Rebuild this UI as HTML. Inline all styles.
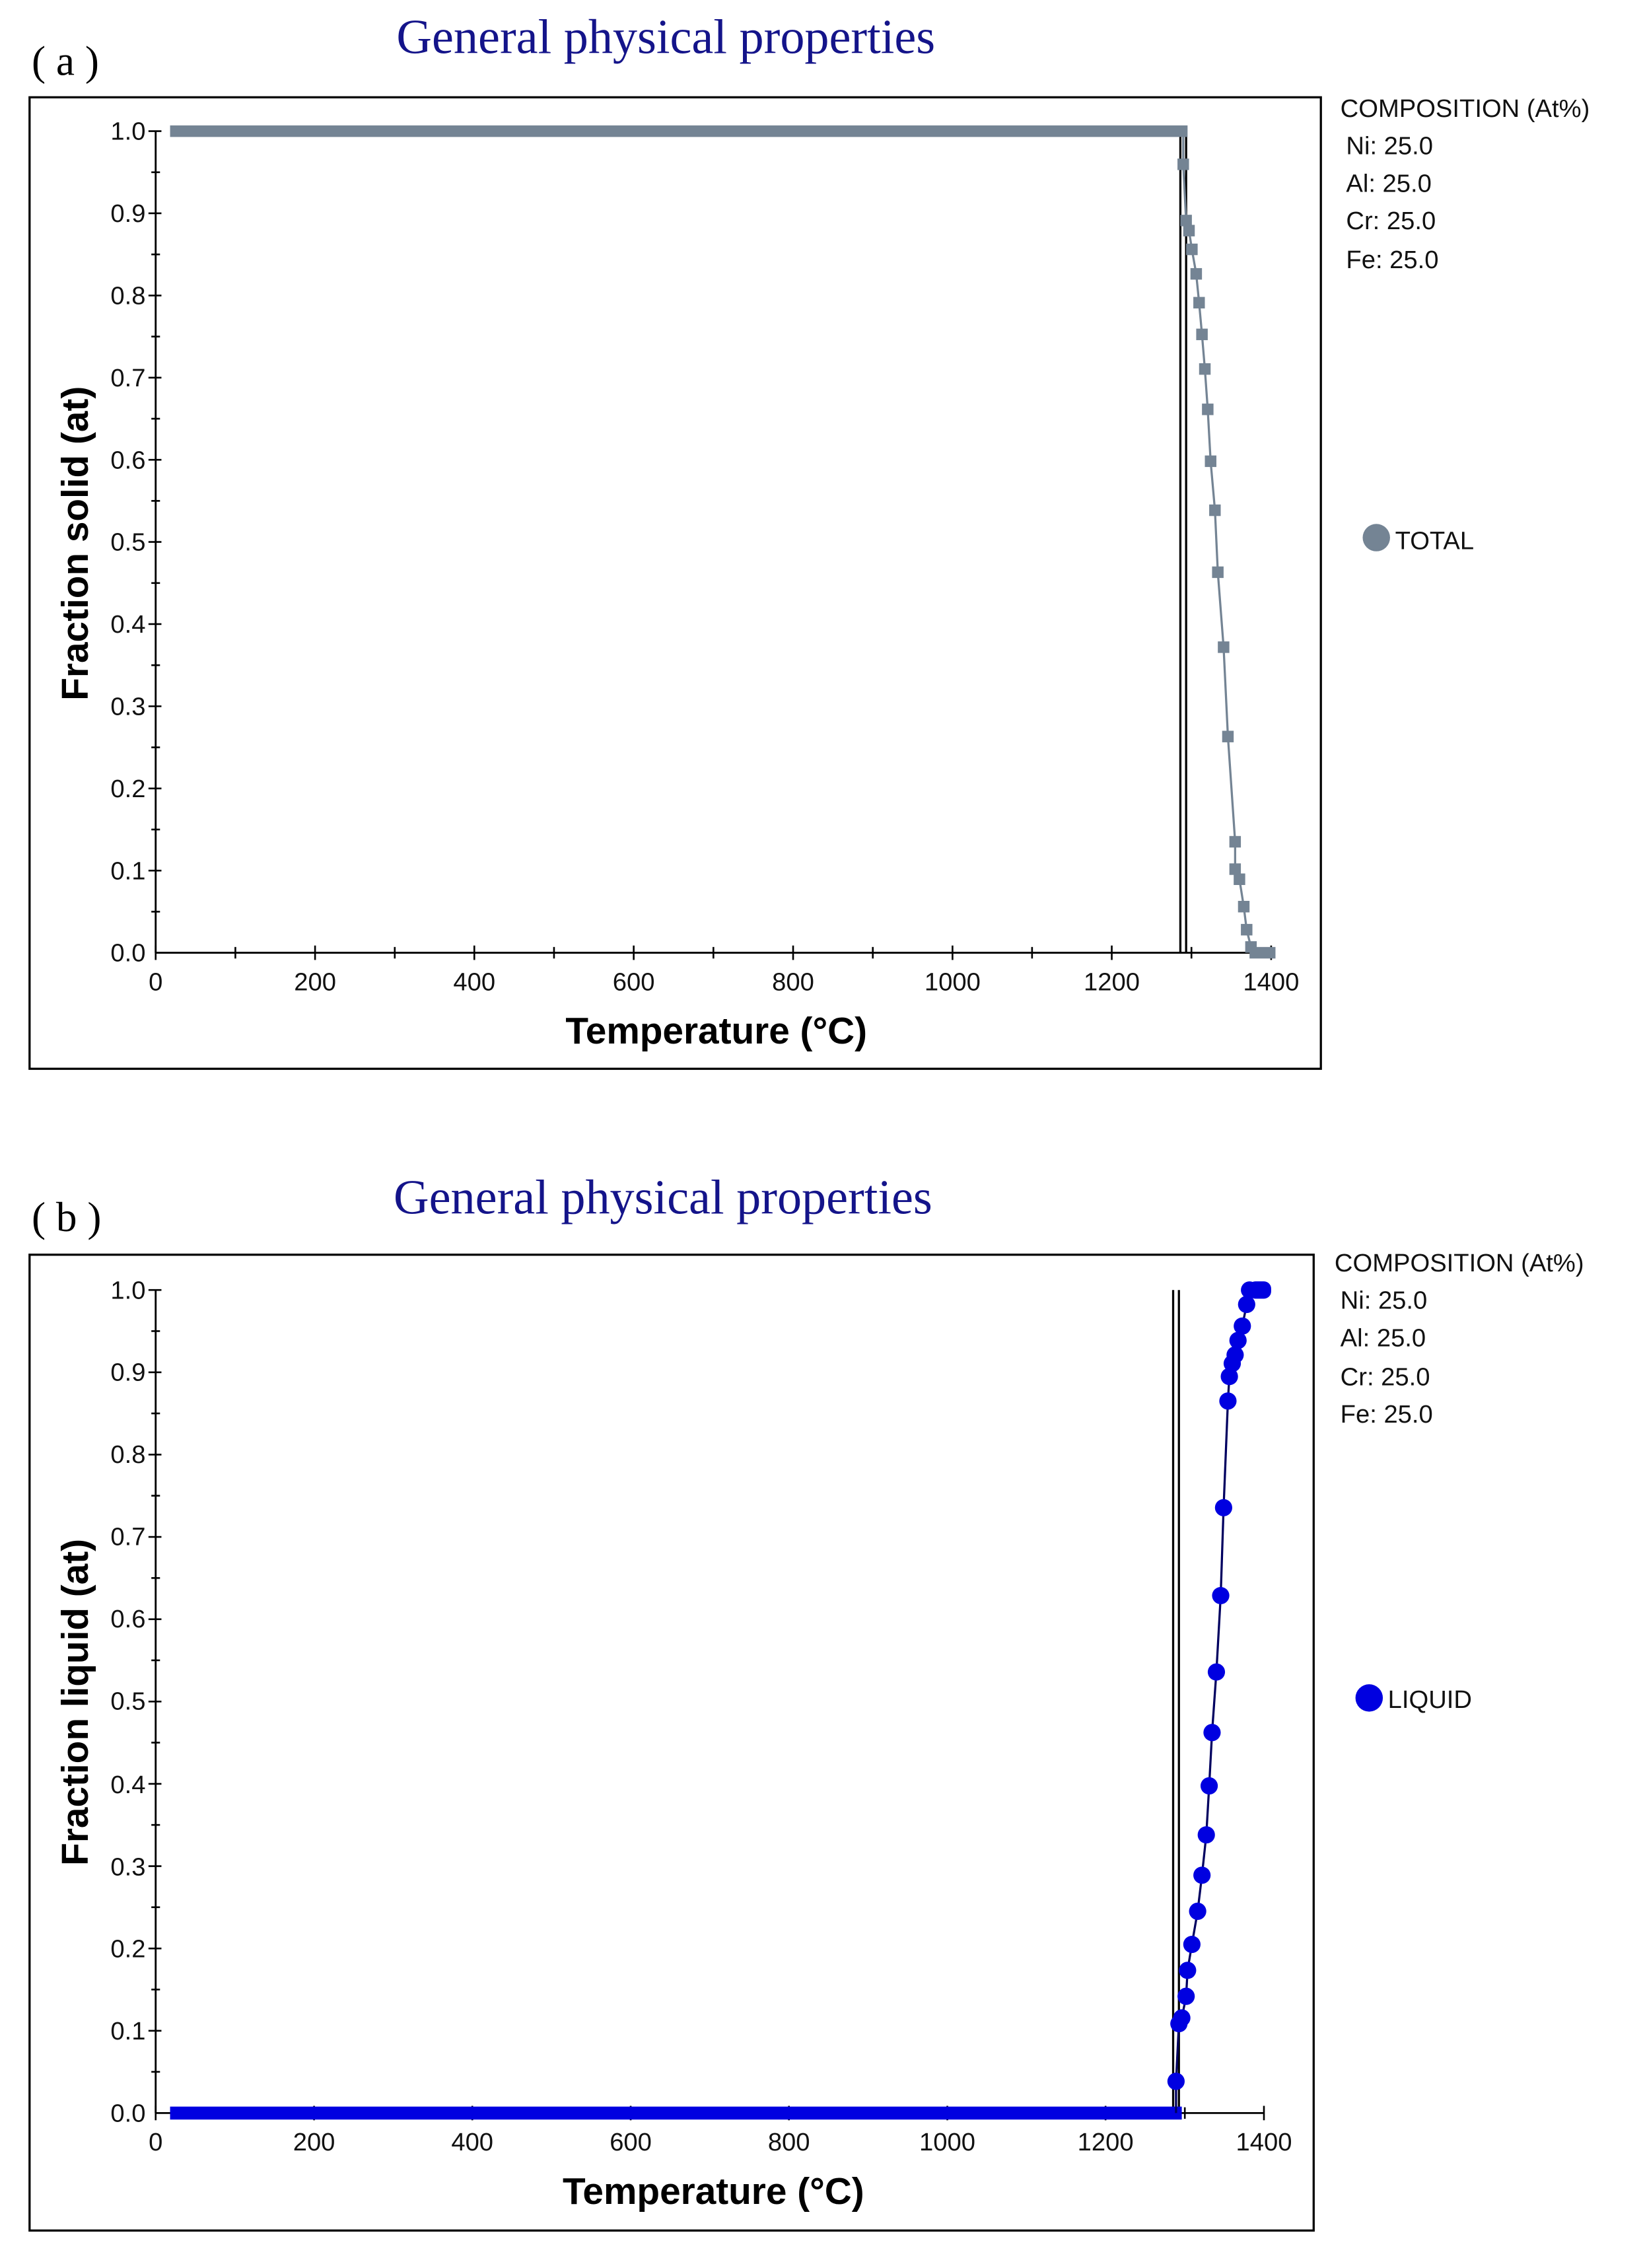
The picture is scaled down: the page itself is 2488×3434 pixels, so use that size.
<!DOCTYPE html>
<html><head><meta charset="utf-8"><style>
html,body{margin:0;padding:0;background:#fff;}
svg{display:block;}
text{font-family:"Liberation Sans",sans-serif;}
</style></head><body>
<svg width="2488" height="3434" viewBox="0 0 1140 1573.5" xmlns="http://www.w3.org/2000/svg">
<rect width="1140" height="1573.5" fill="#fff"/>
<!-- Panel A -->
<text x="22" y="52" font-size="29" style="font-family:'Liberation Serif',serif">( a )</text>
<text x="462" y="37" text-anchor="middle" font-size="34" fill="#14148a" style="font-family:'Liberation Serif',serif">General physical properties</text>
<rect x="20.5" y="67.5" width="896" height="674" fill="none" stroke="#000" stroke-width="1.5"/>
<g stroke="#000" stroke-width="1.3">
<line x1="108" y1="91" x2="108" y2="661"/>
<line x1="108" y1="661" x2="882" y2="661"/>
</g>
<g stroke="#000" stroke-width="1.2">
<line x1="103" y1="91" x2="112" y2="91"/><line x1="103" y1="148" x2="112" y2="148"/><line x1="103" y1="205" x2="112" y2="205"/><line x1="103" y1="262" x2="112" y2="262"/><line x1="103" y1="319" x2="112" y2="319"/><line x1="103" y1="376" x2="112" y2="376"/><line x1="103" y1="433" x2="112" y2="433"/><line x1="103" y1="490" x2="112" y2="490"/><line x1="103" y1="547" x2="112" y2="547"/><line x1="103" y1="604" x2="112" y2="604"/>
<line x1="105" y1="119.5" x2="111" y2="119.5"/><line x1="105" y1="176.5" x2="111" y2="176.5"/><line x1="105" y1="233.5" x2="111" y2="233.5"/><line x1="105" y1="290.5" x2="111" y2="290.5"/><line x1="105" y1="347.5" x2="111" y2="347.5"/><line x1="105" y1="404.5" x2="111" y2="404.5"/><line x1="105" y1="461.5" x2="111" y2="461.5"/><line x1="105" y1="518.5" x2="111" y2="518.5"/><line x1="105" y1="575.5" x2="111" y2="575.5"/><line x1="105" y1="632.5" x2="111" y2="632.5"/>
<line x1="108" y1="656" x2="108" y2="666"/><line x1="163.3" y1="657" x2="163.3" y2="665"/><line x1="218.6" y1="656" x2="218.6" y2="666"/><line x1="273.9" y1="657" x2="273.9" y2="665"/><line x1="329.1" y1="656" x2="329.1" y2="666"/><line x1="384.4" y1="657" x2="384.4" y2="665"/><line x1="439.7" y1="656" x2="439.7" y2="666"/><line x1="495" y1="657" x2="495" y2="665"/><line x1="550.3" y1="656" x2="550.3" y2="666"/><line x1="605.6" y1="657" x2="605.6" y2="665"/><line x1="660.9" y1="656" x2="660.9" y2="666"/><line x1="716.1" y1="657" x2="716.1" y2="665"/><line x1="771.4" y1="656" x2="771.4" y2="666"/><line x1="826.7" y1="657" x2="826.7" y2="665"/><line x1="882" y1="656" x2="882" y2="666"/>
</g>
<g font-size="17.5" text-anchor="end" fill="#111">
<text x="101" y="97">1.0</text><text x="101" y="154">0.9</text><text x="101" y="211">0.8</text><text x="101" y="268">0.7</text><text x="101" y="325">0.6</text><text x="101" y="382">0.5</text><text x="101" y="439">0.4</text><text x="101" y="496">0.3</text><text x="101" y="553">0.2</text><text x="101" y="610">0.1</text><text x="101" y="667">0.0</text>
</g>
<g font-size="17.5" text-anchor="middle" fill="#111">
<text x="108" y="687">0</text><text x="218.6" y="687">200</text><text x="329.1" y="687">400</text><text x="439.7" y="687">600</text><text x="550.3" y="687">800</text><text x="660.9" y="687">1000</text><text x="771.4" y="687">1200</text><text x="882" y="687">1400</text>
</g>
<text x="497" y="724" text-anchor="middle" font-size="26" font-weight="bold">Temperature (°C)</text>
<text transform="translate(61,377) rotate(-90)" text-anchor="middle" font-size="26" font-weight="bold">Fraction solid (at)</text>
<g font-size="17.5" fill="#111">
<text x="930" y="81">COMPOSITION (At%)</text><text x="934" y="107">Ni: 25.0</text><text x="934" y="133">Al: 25.0</text><text x="934" y="159">Cr: 25.0</text><text x="934" y="186">Fe: 25.0</text>
<text x="968" y="381">TOTAL</text>
</g>
<circle cx="955" cy="373" r="9.5" fill="#748494"/>
<line x1="819" y1="91" x2="819" y2="661" stroke="#000" stroke-width="1.5"/>
<line x1="823" y1="91" x2="823" y2="661" stroke="#000" stroke-width="1.5"/>
<line x1="118" y1="91" x2="824" y2="91" stroke="#748494" stroke-width="8"/>
<polyline fill="none" stroke="#748494" stroke-width="1.5" points="821,91 821,114 823,153 825,160 827,173 830,190 832,210 834,232 836,256 838,284 840,320 843,354 845,397 849,449 852,511 857,584 857,603 860,610 863,629 865,645 868,657 871,661 883,661"/>
<g fill="#748494">
<rect x="817" y="110" width="8" height="8"/><rect x="819" y="149" width="8" height="8"/><rect x="821" y="156" width="8" height="8"/><rect x="823" y="169" width="8" height="8"/><rect x="826" y="186" width="8" height="8"/><rect x="828" y="206" width="8" height="8"/><rect x="830" y="228" width="8" height="8"/><rect x="832" y="252" width="8" height="8"/><rect x="834" y="280" width="8" height="8"/><rect x="836" y="316" width="8" height="8"/><rect x="839" y="350" width="8" height="8"/><rect x="841" y="393" width="8" height="8"/><rect x="845" y="445" width="8" height="8"/><rect x="848" y="507" width="8" height="8"/><rect x="853" y="580" width="8" height="8"/><rect x="853" y="599" width="8" height="8"/><rect x="856" y="606" width="8" height="8"/><rect x="859" y="625" width="8" height="8"/><rect x="861" y="641" width="8" height="8"/><rect x="864" y="653" width="8" height="8"/><rect x="867" y="657" width="18" height="8"/>
</g>

<!-- Panel B -->
<text x="22" y="854" font-size="29" style="font-family:'Liberation Serif',serif">( b )</text>
<text x="460" y="842" text-anchor="middle" font-size="34" fill="#14148a" style="font-family:'Liberation Serif',serif">General physical properties</text>
<rect x="20.5" y="870.5" width="891" height="677" fill="none" stroke="#000" stroke-width="1.5"/>
<g stroke="#000" stroke-width="1.3">
<line x1="108" y1="895" x2="108" y2="1466"/>
<line x1="108" y1="1466" x2="877" y2="1466"/>
</g>
<g stroke="#000" stroke-width="1.2">
<line x1="103" y1="895" x2="112" y2="895"/><line x1="103" y1="952.1" x2="112" y2="952.1"/><line x1="103" y1="1009.2" x2="112" y2="1009.2"/><line x1="103" y1="1066.3" x2="112" y2="1066.3"/><line x1="103" y1="1123.4" x2="112" y2="1123.4"/><line x1="103" y1="1180.5" x2="112" y2="1180.5"/><line x1="103" y1="1237.6" x2="112" y2="1237.6"/><line x1="103" y1="1294.7" x2="112" y2="1294.7"/><line x1="103" y1="1351.8" x2="112" y2="1351.8"/><line x1="103" y1="1408.9" x2="112" y2="1408.9"/>
<line x1="105" y1="923.5" x2="111" y2="923.5"/><line x1="105" y1="980.6" x2="111" y2="980.6"/><line x1="105" y1="1037.7" x2="111" y2="1037.7"/><line x1="105" y1="1094.8" x2="111" y2="1094.8"/><line x1="105" y1="1151.9" x2="111" y2="1151.9"/><line x1="105" y1="1209" x2="111" y2="1209"/><line x1="105" y1="1266.1" x2="111" y2="1266.1"/><line x1="105" y1="1323.2" x2="111" y2="1323.2"/><line x1="105" y1="1380.3" x2="111" y2="1380.3"/><line x1="105" y1="1437.4" x2="111" y2="1437.4"/>
<line x1="108" y1="1461" x2="108" y2="1471"/><line x1="162.9" y1="1462" x2="162.9" y2="1470"/><line x1="217.9" y1="1461" x2="217.9" y2="1471"/><line x1="272.8" y1="1462" x2="272.8" y2="1470"/><line x1="327.7" y1="1461" x2="327.7" y2="1471"/><line x1="382.6" y1="1462" x2="382.6" y2="1470"/><line x1="437.6" y1="1461" x2="437.6" y2="1471"/><line x1="492.5" y1="1462" x2="492.5" y2="1470"/><line x1="547.4" y1="1461" x2="547.4" y2="1471"/><line x1="602.4" y1="1462" x2="602.4" y2="1470"/><line x1="657.3" y1="1461" x2="657.3" y2="1471"/><line x1="712.2" y1="1462" x2="712.2" y2="1470"/><line x1="767.1" y1="1461" x2="767.1" y2="1471"/><line x1="822.1" y1="1462" x2="822.1" y2="1470"/><line x1="877" y1="1461" x2="877" y2="1471"/>
</g>
<g font-size="17.5" text-anchor="end" fill="#111">
<text x="101" y="901">1.0</text><text x="101" y="958">0.9</text><text x="101" y="1015">0.8</text><text x="101" y="1072">0.7</text><text x="101" y="1129">0.6</text><text x="101" y="1186">0.5</text><text x="101" y="1244">0.4</text><text x="101" y="1301">0.3</text><text x="101" y="1358">0.2</text><text x="101" y="1415">0.1</text><text x="101" y="1472">0.0</text>
</g>
<g font-size="17.5" text-anchor="middle" fill="#111">
<text x="108" y="1492">0</text><text x="217.9" y="1492">200</text><text x="327.7" y="1492">400</text><text x="437.6" y="1492">600</text><text x="547.4" y="1492">800</text><text x="657.3" y="1492">1000</text><text x="767.1" y="1492">1200</text><text x="877" y="1492">1400</text>
</g>
<text x="495" y="1529" text-anchor="middle" font-size="26" font-weight="bold">Temperature (°C)</text>
<text transform="translate(61,1181) rotate(-90)" text-anchor="middle" font-size="26" font-weight="bold">Fraction liquid (at)</text>
<g font-size="17.5" fill="#111">
<text x="926" y="882">COMPOSITION (At%)</text><text x="930" y="908">Ni: 25.0</text><text x="930" y="934">Al: 25.0</text><text x="930" y="961">Cr: 25.0</text><text x="930" y="987">Fe: 25.0</text>
<text x="963" y="1185">LIQUID</text>
</g>
<circle cx="950" cy="1178" r="9.5" fill="#0000e0"/>
<line x1="814" y1="895" x2="814" y2="1466" stroke="#000" stroke-width="1.5"/>
<line x1="818" y1="895" x2="818" y2="1466" stroke="#000" stroke-width="1.5"/>
<line x1="118" y1="1466" x2="820" y2="1466" stroke="#0000e0" stroke-width="9"/>
<polyline fill="none" stroke="#000060" stroke-width="1.5" points="816,1466 816,1444 818,1404 820,1400 823,1385 824,1367 827,1349 831,1326 834,1301 837,1273 839,1239 841,1202 844,1160 847,1107 849,1046 852,972 853,955 855,946 857,940 859,930 862,920 865,905 867,895 878,895"/>
<g fill="#0000e0">
<circle cx="816" cy="1444" r="6"/><circle cx="818" cy="1404" r="6"/><circle cx="820" cy="1400" r="6"/><circle cx="823" cy="1385" r="6"/><circle cx="824" cy="1367" r="6"/><circle cx="827" cy="1349" r="6"/><circle cx="831" cy="1326" r="6"/><circle cx="834" cy="1301" r="6"/><circle cx="837" cy="1273" r="6"/><circle cx="839" cy="1239" r="6"/><circle cx="841" cy="1202" r="6"/><circle cx="844" cy="1160" r="6"/><circle cx="847" cy="1107" r="6"/><circle cx="849" cy="1046" r="6"/><circle cx="852" cy="972" r="6"/><circle cx="853" cy="955" r="6"/><circle cx="855" cy="946" r="6"/><circle cx="857" cy="940" r="6"/><circle cx="859" cy="930" r="6"/><circle cx="862" cy="920" r="6"/><circle cx="865" cy="905" r="6"/><circle cx="867" cy="895" r="6"/>
<rect x="866" y="889" width="16" height="12" rx="5"/>
</g>
</svg>
</body></html>
